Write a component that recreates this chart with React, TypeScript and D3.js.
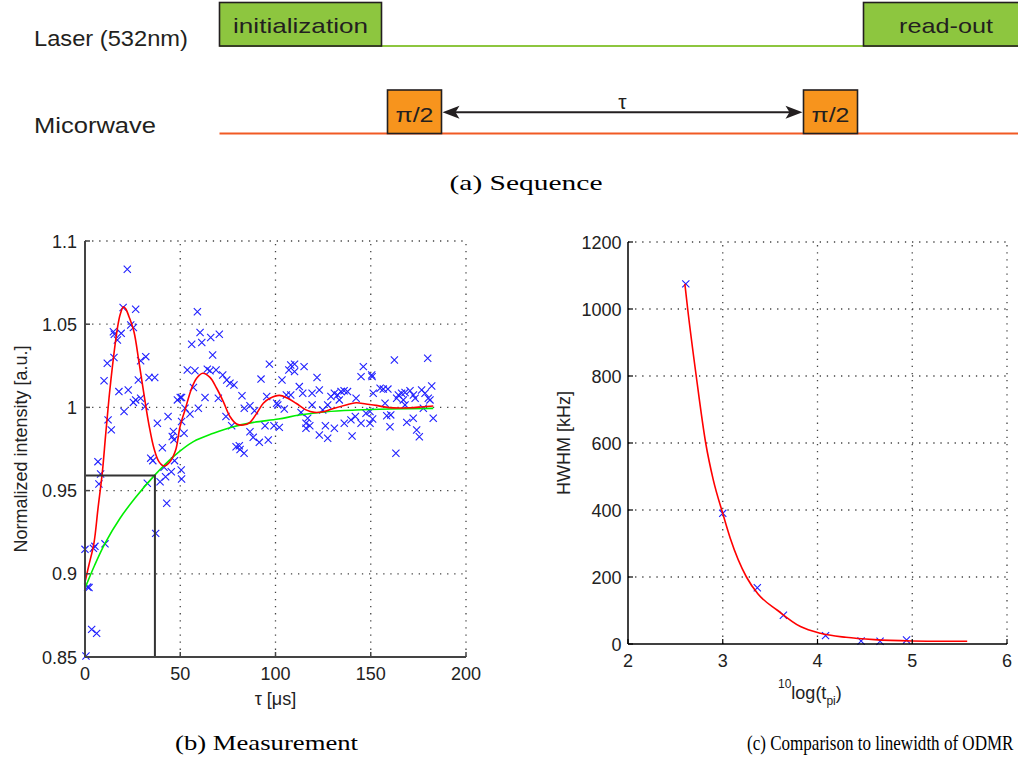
import React from 'react';
import * as d3 from 'd3';

// ---------- (a) sequence ----------
const seqRowLabels = ['Laser (532nm)', 'Micorwave'];
const laserPulses = [
  { label: 'initialization', start: 0, end: 162 },
  { label: 'read-out', start: 644, end: 809 },
];
const mwPulses = [
  { label: 'π/2', start: 168, end: 222 },
  { label: 'π/2', start: 584, end: 638 },
];
const tauLabel = 'τ';

// ---------- (b) measurement ----------
const measPoints: [number, number][] = [
  [22.2, 1.083], [20, 1.06], [26.6, 1.059], [24, 1.0495], [25.4, 1.048], [14.9, 1.0455], [15.4, 1.044],
  [19, 1.0445], [17, 1.0405], [15.2, 1.03], [11.7, 1.0265], [29.2, 1.028], [31.9, 1.0305], [10, 1.016],
  [28, 1.0165], [33.6, 1.018], [36.6, 1.018], [17.8, 1.0095], [22.7, 1.0105], [26.6, 1.0045], [29.2, 1.0055],
  [25.4, 1.003], [31.5, 1.0005], [20.5, 0.9975], [48.5, 1.0045], [50, 1.006], [12.1, 0.9925], [13.8, 0.9865],
  [38, 0.9905], [43.6, 0.9945], [46.4, 0.9855], [45.8, 0.9825], [46.7, 0.9805], [40.6, 0.9758], [6.8, 0.9674],
  [34.5, 0.9695], [35.6, 0.968], [41.5, 0.964], [47, 0.968], [50.5, 0.9624], [8.2, 0.96], [7.3, 0.954],
  [32.7, 0.9544], [39.4, 0.9553], [42.3, 0.9583], [45.3, 0.9613], [42.9, 0.9424], [37.1, 0.9243],
  [0, 0.9147], [4.4, 0.9153], [5.2, 0.9165], [10.5, 0.918], [2.1, 0.8917], [1.4, 0.892], [3.5, 0.8666],
  [6.1, 0.8642], [0.5, 0.8506],
  [59, 1.0575], [60.4, 1.045], [56, 1.038], [61.3, 1.039], [66, 1.042], [70.5, 1.044], [67, 1.0315],
  [53.7, 1.0225], [57.7, 1.022], [64.2, 1.023], [65.6, 1.022], [68.8, 1.0225], [72.3, 1.0195], [74.4, 1.0165],
  [76.1, 1.0145], [78.2, 1.0135], [56.9, 1.012], [96.8, 1.026], [92.4, 1.017], [50.7, 1.006], [63, 1.006],
  [70, 1.0055], [82.4, 1.007], [95.4, 1.0065], [100.6, 1.0025], [52.5, 0.9995], [59.5, 0.9995], [55.1, 0.996],
  [83.6, 0.9995], [86.6, 1.001], [89, 0.998], [50.7, 0.9915], [52, 0.9845], [74, 0.9945], [77, 0.989],
  [86.6, 0.9854], [88.3, 0.982], [91.5, 0.979], [96.2, 0.9804], [94.5, 0.989], [99.2, 0.989], [79.3, 0.9764],
  [81.4, 0.9747], [81, 0.977], [83.5, 0.9724], [50.7, 0.957],
  [108, 1.0255], [110, 1.026], [107, 1.0225], [110, 1.0215], [115, 1.0245], [103.4, 1.0165], [121.8, 1.018],
  [112.5, 1.0125], [123, 1.0105], [119.2, 1.0085], [114.3, 1.0085], [108, 1.0075], [105.7, 1.0075],
  [101.2, 1.0015], [104.6, 0.999], [113.4, 0.997], [119.2, 1.0015], [124.8, 0.9985], [127.4, 1.0015],
  [129.1, 1.0065], [130.9, 1.0085], [132.6, 1.0075], [134.4, 1.0095], [136, 1.01], [137.8, 1.0095],
  [133.5, 1.0045], [142.3, 1.0055], [146.1, 1.0245], [144.9, 1.0185], [150.7, 1.0185], [116.9, 0.9935],
  [116, 0.9905], [118, 0.989], [116, 0.9875], [102, 0.988], [126.2, 0.989], [130.9, 0.9875], [123, 0.9834],
  [127.4, 0.9815], [136.1, 0.9905], [139.6, 0.9925], [141.9, 0.9945], [144.9, 0.9905], [140.2, 0.9828],
  [147.5, 0.9965], [151, 0.993],
  [162.4, 1.0285], [179.9, 1.0295], [150.5, 1.0195], [182, 1.0129], [154.9, 1.0115], [156.6, 1.011],
  [159, 1.011], [151.3, 1.0085], [164.5, 1.0075], [166.2, 1.0085], [168, 1.009], [170.6, 1.01], [172.4, 1.0075],
  [176.7, 1.0105], [178.5, 1.0085], [163.6, 1.0055], [167.1, 1.0045], [173.3, 1.0055], [180.2, 1.0055],
  [181.1, 1.0045], [157.5, 1.0025], [168, 1.0015], [149.6, 0.9975], [177.6, 0.9995], [158.4, 0.995],
  [160.5, 0.9955], [172.3, 0.9935], [168.9, 0.991], [182.8, 0.9935], [160.1, 0.9884], [149.6, 0.9904],
  [174.1, 0.9864], [175.5, 0.9824], [163.2, 0.9724],
];
const dampedFit: [number, number][] = [
  [0, 0.895], [2, 0.905], [4.7, 0.9185], [6.8, 0.939], [9.1, 0.961], [10.8, 0.983], [12.6, 1.0055],
  [14.9, 1.0295], [17, 1.0475], [18.5, 1.056], [20.2, 1.0605], [21.5, 1.059], [23.1, 1.0545], [25.7, 1.0455],
  [28.3, 1.0275], [31, 1.0075], [33.6, 0.9894], [36.2, 0.9754], [38.8, 0.9674], [41.5, 0.9648], [44.6, 0.9674],
  [47.6, 0.9744], [49.9, 0.9885], [52.5, 0.9985], [56, 1.0115], [58.6, 1.0175], [61.8, 1.0205], [65.6, 1.018],
  [69.1, 1.0115], [72.6, 1.0035], [76.1, 0.9945], [79.6, 0.99], [83.1, 0.9894], [86.6, 0.991], [90.1, 0.9964],
  [93.6, 1.0025], [97.1, 1.0055], [102, 1.0072], [106.4, 1.0055], [110.8, 1.0025], [116, 0.9985],
  [120.4, 0.997], [125.6, 0.9975], [130.9, 0.9995], [137, 1.0015], [142.3, 1.0028], [147.5, 1.002],
  [152.8, 1.0012], [157, 1.0003], [162, 0.9997], [170.6, 0.9998], [177.6, 1.0004], [182.8, 1.0008],
];
const envelopeFit: [number, number][] = [
  [0, 0.8913], [5, 0.905], [10.5, 0.9183], [18.4, 0.9334], [26.2, 0.9454], [35.9, 0.9584], [46.4, 0.9704],
  [56.9, 0.9794], [67.4, 0.9844], [77.9, 0.9884], [88.4, 0.991], [101.5, 0.993], [112.5, 0.9954],
  [126.5, 0.9974], [142.3, 0.9984], [160, 0.999], [182.8, 0.9994],
];
const t2Marker = { tau: 36.7, value: 0.959 };
const bXTicks = [0, 50, 100, 150, 200];
const bYTicks = [0.85, 0.9, 0.95, 1, 1.05, 1.1];
const bYTickLabels = ['0.85', '0.9', '0.95', '1', '1.05', '1.1'];

// ---------- (c) comparison ----------
const odmrPoints: [number, number][] = [
  [2.61, 1075], [3.0, 390], [3.365, 168], [3.64, 86], [4.085, 25], [4.46, 9], [4.66, 8], [4.94, 12],
];
const odmrFit: [number, number][] = [
  [2.6, 1075], [2.63, 1000], [2.72, 800], [2.82, 600], [2.9, 490], [3.0, 390], [3.08, 315], [3.25, 200],
  [3.37, 150], [3.58, 100], [3.82, 52], [4.03, 32], [4.3, 20], [4.6, 13], [5.0, 9], [5.3, 8], [5.58, 8],
];
const cXTicks = [2, 3, 4, 5, 6];
const cYTicks = [0, 200, 400, 600, 800, 1000, 1200];

const sans = "'Liberation Sans', Arial, Helvetica, sans-serif";
const serif = "'Liberation Serif', 'Times New Roman', serif";
const gridStyle = { stroke: '#444', strokeWidth: 1.3, strokeDasharray: '1.3 5.8', fill: 'none' };

function Cross({ x, y, color = '#2020ff' }: { x: number; y: number; color?: string }) {
  const s = 3.6;
  return (
    <path d={`M${x - s},${y - s}L${x + s},${y + s}M${x - s},${y + s}L${x + s},${y - s}`}
      stroke={color} strokeWidth={1.1} fill="none" />
  );
}

export default function App() {
  // timeline scale for the sequence
  const tl = d3.scaleLinear().domain([0, 800]).range([219.5, 1019.5]);
  const laserY = 46, mwY = 133.5, boxTop = 2.5, mwTop = 90;

  // (b)
  const xB = d3.scaleLinear().domain([0, 200]).range([85, 466]);
  const yB = d3.scaleLinear().domain([0.85, 1.1]).range([657, 241]);
  const lineB = d3.line<[number, number]>().x(d => xB(d[0])).y(d => yB(d[1])).curve(d3.curveCatmullRom.alpha(0.5));

  // (c)
  const xC = d3.scaleLinear().domain([2, 6]).range([628, 1007]);
  const yC = d3.scaleLinear().domain([0, 1200]).range([644, 242]);
  const lineC = d3.line<[number, number]>().x(d => xC(d[0])).y(d => yC(d[1])).curve(d3.curveMonotoneX);

  const arrowL = tl(mwPulses[0].end);
  const arrowR = tl(mwPulses[1].start);
  const arrowY = 112.3;

  return (
    <svg width={1018} height={762} style={{ position: 'absolute', left: 0, top: 0, background: '#fff' }}
      fontFamily={sans}>
      <rect x={0} y={0} width={1018} height={762} fill="#fff" />
      {/* ---------- (a) Sequence ---------- */}
      <text x={34} y={46} fontSize={22} fill="#231f20" textLength={154} lengthAdjust="spacingAndGlyphs">{seqRowLabels[0]}</text>
      <text x={34} y={133} fontSize={22} fill="#231f20" textLength={122} lengthAdjust="spacingAndGlyphs">{seqRowLabels[1]}</text>
      <line x1={tl(0)} x2={1018} y1={laserY} y2={laserY} stroke="#8dc63f" strokeWidth={2} />
      <line x1={tl(0)} x2={1018} y1={mwY} y2={mwY} stroke="#f15a24" strokeWidth={2} />
      {laserPulses.map((p, i) => (
        <g key={'l' + i}>
          <rect x={tl(p.start)} y={boxTop} width={tl(p.end) - tl(p.start)} height={laserY - boxTop}
            fill="#8dc63f" stroke="#231f20" strokeWidth={1.6} />
          <text x={(tl(p.start) + tl(p.end)) / 2} y={33} fontSize={21} fill="#231f20" textAnchor="middle"
            textLength={i === 0 ? 135 : 94} lengthAdjust="spacingAndGlyphs">{p.label}</text>
        </g>
      ))}
      {mwPulses.map((p, i) => (
        <g key={'m' + i}>
          <rect x={tl(p.start)} y={mwTop} width={tl(p.end) - tl(p.start)} height={mwY - mwTop}
            fill="#f7941d" stroke="#231f20" strokeWidth={1.6} />
          <text x={(tl(p.start) + tl(p.end)) / 2} y={122} fontSize={21} fill="#231f20" textAnchor="middle"
            textLength={38} lengthAdjust="spacingAndGlyphs">{p.label}</text>
        </g>
      ))}
      <line x1={arrowL + 12} x2={arrowR - 12} y1={arrowY} y2={arrowY} stroke="#231f20" strokeWidth={2} />
      <path d={`M${arrowL + 1},${arrowY}L${arrowL + 18},${arrowY - 6.5}L${arrowL + 14},${arrowY}L${arrowL + 18},${arrowY + 6.5}Z`} fill="#231f20" />
      <path d={`M${arrowR - 1},${arrowY}L${arrowR - 18},${arrowY - 6.5}L${arrowR - 14},${arrowY}L${arrowR - 18},${arrowY + 6.5}Z`} fill="#231f20" />
      <text x={(arrowL + arrowR) / 2} y={109} fontSize={21} fill="#231f20" textAnchor="middle">{tauLabel}</text>
      <text x={526} y={190} fontFamily={serif} fontSize={22} textAnchor="middle" textLength={153} lengthAdjust="spacingAndGlyphs">(a) Sequence</text>

      {/* ---------- (b) Measurement ---------- */}
      <g>
        {bXTicks.filter(t => t > 0).map(t => (
          <line key={'bgx' + t} x1={xB(t)} x2={xB(t)} y1={yB(0.85)} y2={yB(1.1)} style={gridStyle} />
        ))}
        {bYTicks.filter(t => t > 0.85).map(t => (
          <line key={'bgy' + t} x1={xB(0)} x2={xB(200)} y1={yB(t)} y2={yB(t)} style={gridStyle} />
        ))}
        {measPoints.map((d, i) => <Cross key={'bp' + i} x={xB(d[0])} y={yB(d[1])} />)}
        <path d={lineB(envelopeFit) || ''} stroke="#00ee00" strokeWidth={1.6} fill="none" />
        <path d={lineB(dampedFit) || ''} stroke="#ff0000" strokeWidth={1.6} fill="none" />
        <polyline points={`${xB(0)},${yB(t2Marker.value)} ${xB(t2Marker.tau)},${yB(t2Marker.value)} ${xB(t2Marker.tau)},${yB(0.85)}`}
          stroke="#333" strokeWidth={2} fill="none" />
        <line x1={xB(0)} x2={xB(0)} y1={yB(0.85)} y2={yB(1.1)} stroke="#444" strokeWidth={2} />
        <line x1={xB(0)} x2={xB(200)} y1={yB(0.85)} y2={yB(0.85)} stroke="#444" strokeWidth={2} />
        {bXTicks.map(t => (
          <g key={'bxt' + t}>
            <line x1={xB(t)} x2={xB(t)} y1={yB(0.85)} y2={yB(0.85) - 5} stroke="#444" strokeWidth={1.5} />
            <text x={xB(t)} y={680} fontSize={18} textAnchor="middle" fill="#222">{t}</text>
          </g>
        ))}
        {bYTicks.map((t, i) => (
          <g key={'byt' + t}>
            <line x1={xB(0)} x2={xB(0) + 5} y1={yB(t)} y2={yB(t)} stroke="#444" strokeWidth={1.5} />
            <text x={xB(0) - 8} y={yB(t) + 6.5} fontSize={18} textAnchor="end" fill="#222">{bYTickLabels[i]}</text>
          </g>
        ))}
        <text x={(xB(0) + xB(200)) / 2} y={705} fontSize={18} textAnchor="middle" fill="#222">τ [μs]</text>
        <text transform={`translate(27,${(yB(0.85) + yB(1.1)) / 2}) rotate(-90)`} fontSize={18} textAnchor="middle" fill="#222">Normalized intensity [a.u.]</text>
      </g>
      <text x={266.5} y={750} fontFamily={serif} fontSize={22} textAnchor="middle" textLength={183} lengthAdjust="spacingAndGlyphs">(b) Measurement</text>

      {/* ---------- (c) Comparison ---------- */}
      <g>
        {cXTicks.filter(t => t > 2).map(t => (
          <line key={'cgx' + t} x1={xC(t)} x2={xC(t)} y1={yC(0)} y2={yC(1200)} style={gridStyle} />
        ))}
        {cYTicks.filter(t => t > 0).map(t => (
          <line key={'cgy' + t} x1={xC(2)} x2={xC(6)} y1={yC(t)} y2={yC(t)} style={gridStyle} />
        ))}
        {odmrPoints.map((d, i) => <Cross key={'cp' + i} x={xC(d[0])} y={yC(d[1])} />)}
        <path d={lineC(odmrFit) || ''} stroke="#ff0000" strokeWidth={1.6} fill="none" />
        <line x1={xC(2)} x2={xC(2)} y1={yC(0)} y2={yC(1200)} stroke="#000" strokeWidth={1.5} />
        <line x1={xC(2)} x2={xC(6)} y1={yC(0)} y2={yC(0)} stroke="#000" strokeWidth={1.5} />
        {cXTicks.map(t => (
          <g key={'cxt' + t}>
            <line x1={xC(t)} x2={xC(t)} y1={yC(0)} y2={yC(0) - 5} stroke="#000" strokeWidth={1.2} />
            <text x={xC(t)} y={667} fontSize={18} textAnchor="middle" fill="#222">{t}</text>
          </g>
        ))}
        {cYTicks.map(t => (
          <g key={'cyt' + t}>
            <line x1={xC(2)} x2={xC(2) + 5} y1={yC(t)} y2={yC(t)} stroke="#000" strokeWidth={1.2} />
            <text x={xC(2) - 6.5} y={yC(t) + 6.5} fontSize={18} textAnchor="end" fill="#222">{t}</text>
          </g>
        ))}
        <text x={778} y={699} fontSize={18} fill="#222">
          <tspan fontSize={12} dy={-11}>10</tspan>
          <tspan dy={11}>log(t</tspan>
          <tspan fontSize={12} dy={6}>pi</tspan>
          <tspan dy={-6}>)</tspan>
        </text>
        <text transform={`translate(570,${(yC(0) + yC(1200)) / 2}) rotate(-90)`} fontSize={18} textAnchor="middle" fill="#222">HWHM [kHz]</text>
      </g>
      <text transform="translate(747,750) scale(0.775,1)" fontFamily={serif} fontSize={22}>(c) Comparison to linewidth of ODMR</text>
    </svg>
  );
}
